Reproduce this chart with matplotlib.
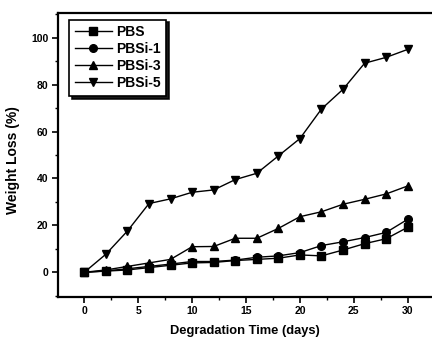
import matplotlib
matplotlib.use("Agg")
import matplotlib.pyplot as plt
from matplotlib.ticker import MultipleLocator

days = [0, 2, 4, 6, 8, 10, 12, 14, 16, 18, 20, 22, 24, 26, 28, 30]
pbs = [0, 0.5, 1.0, 2.0, 3.0, 4.0, 4.2, 5.0, 5.5, 6.0, 7.4, 7.0, 9.5, 12.2, 14.3, 19.2]
pbsi1 = [0, 0.6, 1.5, 2.5, 3.5, 4.6, 4.6, 5.2, 6.4, 7.0, 8.4, 11.4, 13.0, 14.8, 17.0, 22.6]
pbsi3 = [0, 1.0, 2.5, 4.0, 5.5, 10.9, 11.0, 14.5, 14.5, 18.7, 23.7, 25.8, 29.0, 31.1, 33.4, 36.8]
pbsi5 = [0, 7.7, 17.6, 29.3, 31.3, 34.1, 35.1, 39.5, 42.2, 49.6, 57.0, 69.6, 78.0, 89.1, 91.6, 95.0]
labels = ["PBS", "PBSi-1", "PBSi-3", "PBSi-5"]
markers = ["s", "o", "^", "v"]

plt.rcParams['font.family'] = ['Liberation Sans', 'DejaVu Sans']
plt.rcParams['font.weight'] = 'bold'

fig = plt.figure(figsize=(4.32, 3.39), dpi=100)
W, H = 432, 339
left, right, top, bottom = 58, 432, 13, 296.7
ax = fig.add_axes([left / W, 1 - bottom / H, (right - left) / W, (bottom - top) / H])

for ys, lab, m in zip([pbs, pbsi1, pbsi3, pbsi5], labels, markers):
    ax.plot(days, ys, color='black', lw=1.0, marker=m, markersize=5.5, label=lab)

ax.set_xlim(-2.44, 32.25)
ax.set_ylim(-10.4, 110.5)
ax.xaxis.set_major_locator(MultipleLocator(5))
ax.xaxis.set_minor_locator(MultipleLocator(2.5))
ax.yaxis.set_major_locator(MultipleLocator(20))
ax.yaxis.set_minor_locator(MultipleLocator(10))
ax.set_yticks([0, 20, 40, 60, 80, 100])
ax.tick_params(axis='both', which='major', direction='out', length=4, width=1.2, labelsize=7.5, pad=3)
ax.tick_params(axis='both', which='minor', direction='out', length=2.5, width=1.0)
ax.tick_params(top=False, right=False)
for lab in ax.get_xticklabels() + ax.get_yticklabels():
    lab.set_fontweight('bold')
for s in ['left', 'bottom', 'top']:
    ax.spines[s].set_linewidth(1.6)
ax.spines['right'].set_visible(False)

ax.set_xlabel("Degradation Time (days)", fontsize=9.3, fontweight='bold', labelpad=6)
ax.set_ylabel("Weight Loss (%)", fontsize=10, fontweight='bold')
ax.yaxis.set_label_coords((20 - left) / (right - left), (bottom - 160.5) / (bottom - top))

leg = ax.legend(loc='upper left', bbox_to_anchor=(11 / (right - left), 1 - 6.5 / (bottom - top)),
                fontsize=10, frameon=True, fancybox=False,
                shadow={'color': 'black', 'alpha': 0.9},
                handlelength=2.7, borderpad=0.4, labelspacing=0.22, handletextpad=0.3,
                borderaxespad=0)
leg.get_frame().set_edgecolor('black')
leg.get_frame().set_linewidth(1.2)
for t in leg.get_texts():
    t.set_fontweight('bold')

fig.savefig("out.png", dpi=100)
